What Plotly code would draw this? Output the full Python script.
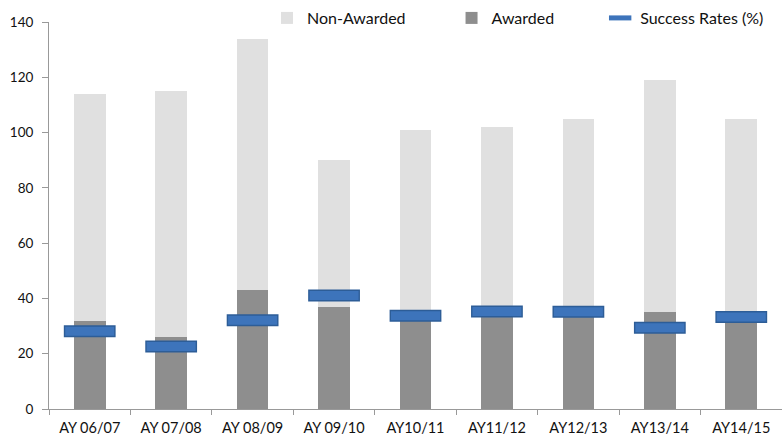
import plotly.graph_objects as go

categories = ["AY 06/07", "AY 07/08", "AY 08/09", "AY 09/10", "AY10/11",
              "AY11/12", "AY12/13", "AY13/14", "AY14/15"]
awarded = [32, 26, 43, 37, 34, 36, 37, 35, 35]
non_awarded = [82, 89, 91, 53, 67, 66, 68, 84, 70]
success_rates = [28.1, 22.6, 32.1, 41.1, 33.7, 35.3, 35.2, 29.4, 33.3]

FONT = "Lato"
PAD = "\u00a0" * 10

fig = go.Figure()
fig.add_trace(go.Bar(x=categories, y=awarded, name="Awarded" + PAD,
                     marker=dict(color="#8e8e8e", line=dict(width=0)),
                     legendrank=2))
fig.add_trace(go.Bar(x=categories, y=non_awarded, name="Non-Awarded" + PAD,
                     marker=dict(color="#e0e0e0", line=dict(width=0)),
                     legendrank=1))
# outline of the success-rate marker
fig.add_trace(go.Scatter(x=categories, y=success_rates, mode="markers",
                         showlegend=False, hoverinfo="skip",
                         marker=dict(symbol="line-ew", size=37,
                                     line=dict(width=12, color="#2d5d97"))))
fig.add_trace(go.Scatter(x=categories, y=success_rates, mode="markers",
                         name="Success Rates (%)", legendrank=3,
                         marker=dict(symbol="line-ew", size=35,
                                     line=dict(width=9, color="#3d74bb"))))

fig.update_layout(
    width=782, height=439,
    barmode="stack", bargap=0.61,
    plot_bgcolor="white", paper_bgcolor="white",
    margin=dict(l=49, r=0, t=22, b=30, autoexpand=False),
    font=dict(family=FONT, size=13, color="#111111"),
    legend=dict(orientation="h", x=0.2974, y=1.0103, xanchor="left", yanchor="middle",
                font=dict(size=16), traceorder="normal",
                itemwidth=30, bgcolor="rgba(0,0,0,0)"),
    xaxis=dict(range=[-0.5, 8.5], showline=True, linecolor="#999999", linewidth=1,
               ticks="outside", ticklen=5, tickcolor="#999999",
               tickson="boundaries", showgrid=False,
               ticklabelstandoff=6, tickfont=dict(size=14.5)),
    yaxis=dict(range=[0, 140], dtick=20, showline=True, linecolor="#999999",
               linewidth=1, ticks="outside", ticklen=6, tickcolor="#999999",
               showgrid=False, zeroline=False, ticklabelstandoff=6,
               tickfont=dict(size=13.5)),
)

fig.write_html("out.html", config={"displayModeBar": False},
               post_script="document.body.style.margin='0px';")
